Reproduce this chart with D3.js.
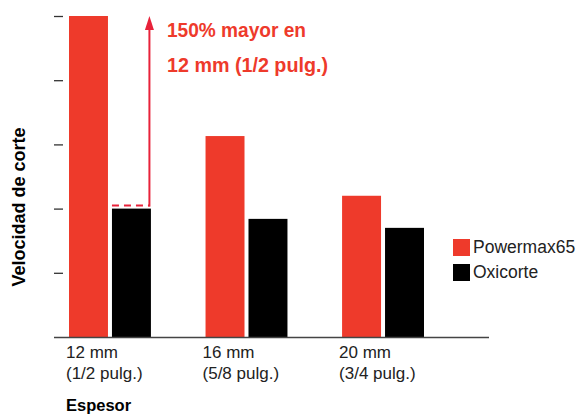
<!DOCTYPE html>
<meta charset="utf-8">
<script src="https://cdn.jsdelivr.net/npm/d3@7"></script>
<style>
body{margin:0;background:#fff;}
text{font-family:"Helvetica Neue",Helvetica,"Liberation Sans",Arial,sans-serif;}
.note{font-family:"Liberation Sans",Arial,sans-serif;font-weight:bold;}
</style>
<body>
<div id="chart"></div>
<script>
// data (units = tick steps)
var categories = ["12 mm", "16 mm", "20 mm"];
var subLabels = ["(1/2 pulg.)", "(5/8 pulg.)", "(3/4 pulg.)"];
var series = ["Powermax65", "Oxicorte"];
var powermax = [5.0, 3.13, 2.2];
var oxicorte = [2.0, 1.84, 1.7];
var yTicks = [1, 2, 3, 4, 5];
var noteLines = ["150% mayor en", "12 mm (1/2 pulg.)"];
var noteWidths = [139, 161]; // condensed type, squeezed to the measured widths

var colors = {"Powermax65": "#ee3a2b", "Oxicorte": "#000000"};
var arrowColor = "#e8223a";

var width = 577, height = 414;

var rows = categories.map(function(c, i){
  return {cat: c, sub: subLabels[i], Powermax65: powermax[i], Oxicorte: oxicorte[i]};
});

var svg = d3.select("#chart").append("svg")
  .attr("width", width)
  .attr("height", height);

var x = d3.scaleBand()
  .domain(categories)
  .range([69, 424])
  .paddingInner(0.4)
  .paddingOuter(0);

var xs = d3.scaleBand()
  .domain(series)
  .range([0, x.bandwidth()])
  .paddingInner(0.093);

var y = d3.scaleLinear()
  .domain([0, 5])
  .range([337, 16]);

// y axis ticks only, no labels
var yAxis = d3.axisLeft(y)
  .tickValues(yTicks)
  .tickSize(9)
  .tickFormat("");

svg.append("g")
  .attr("class", "y axis")
  .attr("transform", "translate(63,0)")
  .call(yAxis)
  .call(function(g){
    g.select(".domain").remove();
    g.selectAll(".tick line").attr("stroke", "#333").attr("stroke-width", 1.3);
  });

// bars
var groups = svg.append("g").selectAll("g")
  .data(rows).enter()
  .append("g")
  .attr("transform", function(d){ return "translate(" + x(d.cat) + ",0)"; });

groups.selectAll("rect")
  .data(function(d){ return series.map(function(s){ return {key: s, value: d[s]}; }); })
  .enter().append("rect")
  .attr("x", function(d){ return xs(d.key); })
  .attr("width", xs.bandwidth())
  .attr("y", function(d){ return y(d.value); })
  .attr("height", function(d){ return y(0) - y(d.value); })
  .attr("fill", function(d){ return colors[d.key]; });

// baseline
svg.append("line")
  .attr("x1", 54).attr("x2", 489)
  .attr("y1", y(0) + 0.5).attr("y2", y(0) + 0.5)
  .attr("stroke", "#444").attr("stroke-width", 1.5);

// x labels
var xl = svg.append("g");
xl.selectAll(".cat")
  .data(rows).enter().append("text")
  .attr("x", function(d){ return x(d.cat) - 3; })
  .attr("y", 358)
  .attr("font-size", 17)
  .attr("fill", "#222")
  .text(function(d){ return d.cat; });
xl.selectAll(".sub")
  .data(rows).enter().append("text")
  .attr("x", function(d){ return x(d.cat) - 3; })
  .attr("y", 379)
  .attr("font-size", 17)
  .attr("fill", "#222")
  .text(function(d){ return d.sub; });

// axis titles
svg.append("text")
  .attr("x", 66).attr("y", 411)
  .attr("font-size", 16.5)
  .attr("font-weight", "bold")
  .text("Espesor");

svg.append("text")
  .attr("transform", "translate(25," + 207 + ") rotate(-90)")
  .attr("text-anchor", "middle")
  .attr("font-size", 18)
  .attr("font-weight", "bold")
  .text("Velocidad de corte");

// legend
var legend = svg.append("g").selectAll("g")
  .data(series).enter().append("g")
  .attr("transform", function(d, i){ return "translate(453," + (239 + i * 25) + ")"; });
legend.append("rect")
  .attr("width", 17).attr("height", 17)
  .attr("fill", function(d){ return colors[d]; });
legend.append("text")
  .attr("x", 20).attr("y", 13.5)
  .attr("font-size", 17.5)
  .attr("fill", "#222")
  .text(function(d){ return d; });

// annotation arrow
var first = rows[0];
var dashY = y(first.Oxicorte) - 3;
var arrowX = x(first.cat) + xs("Oxicorte") + xs.bandwidth() - 1.5;
var topY = y(first.Powermax65);

svg.append("line")
  .attr("x1", x(first.cat) + xs("Oxicorte")).attr("x2", arrowX)
  .attr("y1", dashY).attr("y2", dashY)
  .attr("stroke", arrowColor).attr("stroke-width", 2)
  .attr("stroke-dasharray", "7,5");

svg.append("line")
  .attr("x1", arrowX).attr("x2", arrowX)
  .attr("y1", dashY + 1).attr("y2", topY + 12)
  .attr("stroke", arrowColor).attr("stroke-width", 2);

svg.append("path")
  .attr("d", "M" + arrowX + "," + topY + "L" + (arrowX - 4.5) + "," + (topY + 14) + "L" + (arrowX + 4.5) + "," + (topY + 14) + "Z")
  .attr("fill", arrowColor);

svg.append("g").selectAll("text")
  .data(noteLines).enter().append("text")
  .attr("class", "note")
  .attr("x", 167)
  .attr("y", function(d, i){ return 37 + i * 35; })
  .attr("font-size", 21)
  .attr("textLength", function(d, i){ return noteWidths[i]; })
  .attr("lengthAdjust", "spacingAndGlyphs")
  .attr("fill", "#ee3a2b")
  .text(function(d){ return d; });
</script>
</body>
